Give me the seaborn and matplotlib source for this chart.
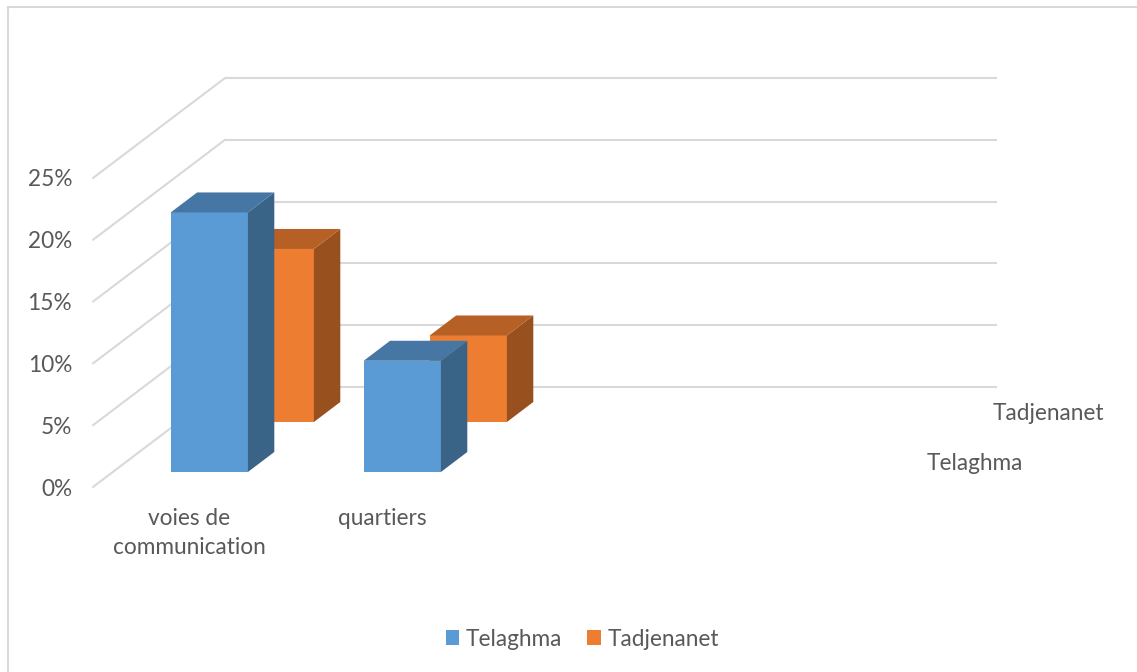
import numpy as np
import pandas as pd
import matplotlib
matplotlib.use("Agg")
import matplotlib.pyplot as plt
import seaborn as sns
from matplotlib.transforms import ScaledTranslation, IdentityTransform
from matplotlib.patches import Polygon, Rectangle, Patch
from matplotlib.lines import Line2D
from matplotlib.ticker import PercentFormatter
from matplotlib.colors import to_rgb

# ---------------- data ----------------
categories = ["voies de\ncommunication", "quartiers"]
series = ["Telaghma", "Tadjenanet"]
telaghma = [0.21, 0.09]
tadjenanet = [0.14, 0.07]
y_ticks = [0.0, 0.05, 0.10, 0.15, 0.20, 0.25]
series_colors = ["#5B9BD5", "#ED7D31"]
n_slots = 4  # category slots on the floor (two are empty)

df = pd.DataFrame({
    "categorie": categories * 2,
    "serie": [series[0]] * len(categories) + [series[1]] * len(categories),
    "valeur": telaghma + tadjenanet,
})

# ---------------- style ----------------
sns.set_theme(style="white")
plt.rcParams["font.family"] = ["Lato", "DejaVu Sans"]
TXT = "#595959"
GRID = "#D9D9D9"
FS = 16.3

W, H, DPI = 1137, 672, 100
fig = plt.figure(figsize=(W / DPI, H / DPI), dpi=DPI)
fig.patch.set_facecolor("white")
ax = fig.add_axes([93 / W, 185 / H, 772 / W, 309 / H])
ax.set_facecolor("none")

# oblique depth geometry (pixels)
SLOPE = 1.32
ROW_START, ROW_STEP, BAR_DEPTH, WALL_DEPTH = 15, 50, 20, 100


def depth_offset(d):
    return ScaledTranslation(SLOPE * d / DPI, d / DPI, fig.dpi_scale_trans)


def shade(c, k):
    r, g, b = to_rgb(c)
    return (r * k, g * k, b * k)


# draw bars: back row first
bar_groups = {}
for r in [1, 0]:
    name = series[r]
    sub = df[df["serie"] == name]
    n0 = len(ax.patches)
    sns.barplot(data=sub, x="categorie", y="valeur", order=categories,
                color=series_colors[r], saturation=1, width=0.4,
                errorbar=None, linewidth=0, ax=ax)
    bar_groups[r] = ax.patches[n0:]

ax.set_xlim(-0.5, n_slots - 0.5)
ax.set_ylim(y_ticks[0], y_ticks[-1])
ax.autoscale(False)

# 3D faces
for r in [1, 0]:
    d = ROW_START + ROW_STEP * r
    z = 2 + (1 - r) * 2
    for p in bar_groups[r]:
        tr = ax.transData + depth_offset(d)
        p.set_transform(tr)
        p.set_zorder(z)
        p.set_clip_on(False)
        x0, x1 = p.get_x(), p.get_x() + p.get_width()
        y0, y1 = p.get_y(), p.get_y() + p.get_height()
        (X0, Y0), (X1, Y1) = tr.transform([(x0, y0), (x1, y1)])
        dx, dy = SLOPE * BAR_DEPTH, BAR_DEPTH
        side = Polygon([(X1, Y0), (X1 + dx, Y0 + dy), (X1 + dx, Y1 + dy), (X1, Y1)],
                       closed=True, transform=IdentityTransform(),
                       facecolor=shade(series_colors[r], 0.64), edgecolor="none",
                       zorder=z + 0.1, clip_on=False)
        top = Polygon([(X0, Y1), (X1, Y1), (X1 + dx, Y1 + dy), (X0 + dx, Y1 + dy)],
                      closed=True, transform=IdentityTransform(),
                      facecolor=shade(series_colors[r], 0.77), edgecolor="none",
                      zorder=z + 0.1, clip_on=False)
        ax.add_patch(side)
        ax.add_patch(top)

# back wall gridlines
ax.hlines(y_ticks, -0.5, n_slots - 0.5, colors=GRID, linewidth=1.5,
          transform=ax.transData + depth_offset(WALL_DEPTH), zorder=0.5,
          clip_on=False)
# side wall diagonals
for t in y_ticks:
    X, Y = ax.transData.transform((-0.5, t))
    ln = Line2D([X, X + SLOPE * WALL_DEPTH], [Y, Y + WALL_DEPTH],
                transform=IdentityTransform(), color=GRID, linewidth=1.5,
                zorder=0.5, clip_on=False)
    ax.add_line(ln)

# axes text
ax.set_yticks(y_ticks)
ax.yaxis.set_major_formatter(PercentFormatter(1.0, decimals=0))
ax.set_xticks(range(len(categories)))
ax.set_xticklabels(categories)
ax.tick_params(axis="y", length=0, pad=15, labelsize=FS, labelcolor=TXT)
ax.tick_params(axis="x", length=0, pad=15, labelsize=FS, labelcolor=TXT)
for lab in ax.get_xticklabels():
    lab.set_linespacing(1.5)
ax.set_xlabel("")
ax.set_ylabel("")
for s in ax.spines.values():
    s.set_visible(False)
ax.grid(False)

# depth axis (series) labels
for r, name in enumerate(series):
    d = ROW_START + ROW_STEP * r + BAR_DEPTH / 2
    ax.text(n_slots - 0.5, 0, name, fontsize=FS, color=TXT, ha="left", va="center",
            transform=ax.transData + depth_offset(d)
            + ScaledTranslation(29 / DPI, -2 / DPI, fig.dpi_scale_trans),
            clip_on=False)

ax.set_xlim(-0.5, n_slots - 0.5)
ax.set_ylim(y_ticks[0], y_ticks[-1])

# legend
handles = [Patch(facecolor=c, edgecolor="none") for c in series_colors]
fig.legend(handles, series, loc="center", bbox_to_anchor=(0.5 + 14 / W, 33 / H), ncol=2,
           frameon=False, handlelength=0.6, handleheight=0.6, handletextpad=0.3,
           columnspacing=1.1, fontsize=FS, labelcolor=TXT)

# chart border (top and left visible)
fig.add_artist(Rectangle((8 / W, -0.1), 1.2, 665 / H + 0.1, transform=fig.transFigure,
                         fill=False, edgecolor=GRID, linewidth=1.5))

fig.savefig("out.png", dpi=DPI, facecolor="white")
